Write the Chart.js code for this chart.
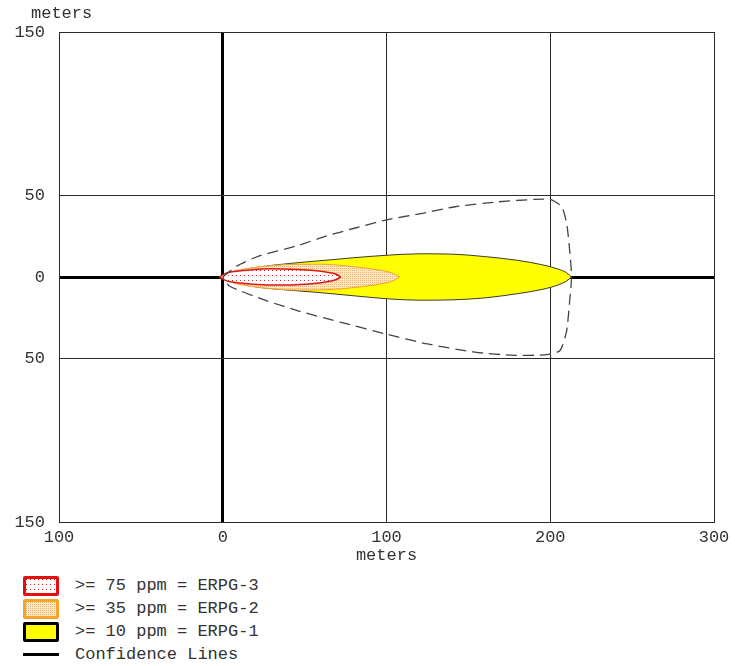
<!DOCTYPE html>
<html>
<head>
<meta charset="utf-8">
<script src="https://cdn.jsdelivr.net/npm/chart.js@4/dist/chart.umd.min.js"></script>
<style>
  body { margin: 0; background: #fff; font-family: "Liberation Mono", "DejaVu Sans Mono", monospace; color: #333; }
  #wrap { position: relative; width: 735px; height: 666px; }
  #chart-box { position: absolute; left: 0; top: 0; width: 735px; height: 570px; }
  #y-title { position: absolute; left: 31px; top: 4px; font-size: 17px; line-height: 20px; }
  #legend { position: absolute; left: 23px; top: 574px; }
  .legend-item { height: 23px; display: flex; align-items: center; font-size: 17px; white-space: pre; }
  .legend-box { width: 30px; height: 14px; margin-right: 16px; border-radius: 2px; }
  .legend-line { width: 36px; height: 3px; background: #000; margin-right: 16px; }
</style>
</head>
<body>
<div id="wrap">
  <div id="chart-box"><canvas id="zoneChart"></canvas></div>
  <div id="y-title">meters</div>
  <div id="legend"></div>
</div>
<script>
// axis ticks
const xTicks = [-100, 0, 100, 200, 300];
const yTicks = [-150, -50, 0, 50, 150];

// ERPG-1 (>= 10 ppm) yellow zone
const erpg1UpperX = [0, 8, 20, 40, 60, 80, 100, 120, 140, 160, 180, 195, 205, 210, 213];
const erpg1UpperY = [0, 3.5, 5.8, 8.2, 10, 11.8, 13.3, 14.2, 14, 12.5, 10.2, 7.5, 4.8, 2.6, 0];
const erpg1LowerX = [0, 8, 20, 40, 60, 80, 100, 120, 140, 160, 180, 195, 205, 210, 213];
const erpg1LowerY = [0, -3.5, -6, -8, -9.6, -11.5, -13.3, -14.2, -14, -12.8, -10.2, -7.6, -4.8, -2.4, 0];

// ERPG-2 (>= 35 ppm) orange zone
const erpg2UpperX = [0, 5, 15, 30, 45, 60, 75, 88, 98, 104, 108];
const erpg2UpperY = [0, 3, 5.2, 7, 7.8, 7.8, 6.8, 5.3, 3.8, 2.2, 0];
const erpg2LowerX = [0, 5, 15, 30, 45, 60, 75, 88, 98, 104, 108];
const erpg2LowerY = [0, -3, -5.4, -7.2, -8, -7.9, -7, -5.5, -3.9, -2.3, 0];

// ERPG-3 (>= 75 ppm) red zone
const erpg3UpperX = [-2, 2, 8, 18, 30, 42, 54, 63, 69, 72];
const erpg3UpperY = [0, 2.3, 3.5, 4.5, 5, 4.8, 4.1, 3, 1.8, 0];
const erpg3LowerX = [-2, 2, 8, 18, 30, 42, 54, 63, 69, 72];
const erpg3LowerY = [0, -2.2, -3.4, -4.4, -4.9, -4.9, -4.2, -3, -1.7, 0];

// confidence lines (one closed path: upper edge out, down the far end, lower edge back)
const confX = [0, 8.5, 22, 45, 63, 81, 100, 122, 142, 168, 190, 200, 207, 210, 212, 213,
               212, 210, 206, 198, 178, 154, 125, 100, 73, 47, 27, 4, 0];
const confY = [0, 6.7, 12.8, 19, 25, 30, 35, 39, 43, 46, 47.5, 47.5, 43, 33, 15, 0,
               -13, -33, -45, -47.5, -48, -46, -41, -35, -28, -21, -14.6, -5.5, 0];

const legendItems = [
  { text: '>= 75 ppm = ERPG-3', kind: 'red' },
  { text: '>= 35 ppm = ERPG-2', kind: 'orange' },
  { text: '>= 10 ppm = ERPG-1', kind: 'yellow' },
  { text: 'Confidence Lines', kind: 'line' }
];

const FONT = { family: '"Liberation Mono", "DejaVu Sans Mono", monospace', size: 17 };

const toPoints = (xs, ys) => xs.map((x, i) => ({ x, y: ys[i] }));

function makeDotPattern(bg, dot, w, h) {
    const c = document.createElement('canvas');
    c.width = w; c.height = h;
    const g = c.getContext('2d');
    g.fillStyle = bg;
    g.fillRect(0, 0, w, h);
    g.fillStyle = dot;
    g.fillRect(0, 0, 1, 1);
    return { pattern: g.createPattern(c, 'repeat'), url: c.toDataURL() };
}

const redDots = makeDotPattern('#ffffff', '#e02828', 4, 5);
const orangeDots = makeDotPattern('#f9e7c6', '#e9b676', 2, 2);

const zone = (label, pts, fillStyle, border, width, order) => ({
    label,
    data: pts,
    fill: 'origin',
    backgroundColor: fillStyle,
    borderColor: border,
    borderWidth: width,
    pointRadius: 0,
    cubicInterpolationMode: 'monotone',
    order
});

const datasets = [
    zone('ERPG-1 upper', toPoints(erpg1UpperX, erpg1UpperY), '#ffff00', '#3a3a2a', 1, 6),
    zone('ERPG-1 lower', toPoints(erpg1LowerX, erpg1LowerY), '#ffff00', '#3a3a2a', 1, 5),
    zone('ERPG-2 upper', toPoints(erpg2UpperX, erpg2UpperY), orangeDots.pattern, '#f0a030', 1, 4),
    zone('ERPG-2 lower', toPoints(erpg2LowerX, erpg2LowerY), orangeDots.pattern, '#f0a030', 1, 3),
    zone('ERPG-3 upper', toPoints(erpg3UpperX, erpg3UpperY), redDots.pattern, '#d81818', 1.5, 2),
    zone('ERPG-3 lower', toPoints(erpg3LowerX, erpg3LowerY), redDots.pattern, '#d81818', 1.5, 1),
    {
        label: 'Confidence Lines',
        data: toPoints(confX, confY),
        fill: false,
        borderColor: '#444',
        borderWidth: 1.3,
        borderDash: [11, 6],
        pointRadius: 0,
        tension: 0.2,
        order: 0
    }
];

const gridWidth = (ctx) => (ctx.tick && ctx.tick.value === 0 ? 3 : 1);
const gridColor = (ctx) => (ctx.tick && ctx.tick.value === 0 ? '#000' : '#2a2a2a');

new Chart(document.getElementById('zoneChart').getContext('2d'), {
    type: 'line',
    data: { datasets },
    options: {
        responsive: true,
        maintainAspectRatio: false,
        animation: false,
        events: [],
        layout: { padding: { top: 32, right: 21, left: 0, bottom: 0 } },
        plugins: { legend: { display: false }, tooltip: { enabled: false } },
        scales: {
            x: {
                type: 'linear',
                min: -100,
                max: 300,
                z: 1,
                afterBuildTicks: (axis) => { axis.ticks = xTicks.map(v => ({ value: v })); },
                afterFit: (s) => { s.height = 48; },
                ticks: { font: FONT, color: '#333', padding: 5, maxRotation: 0, autoSkip: false, callback: v => String(Math.abs(v)) },
                grid: { color: gridColor, lineWidth: gridWidth, drawTicks: false },
                border: { color: '#2a2a2a', width: 1 },
                title: { display: true, text: 'meters', font: FONT, color: '#333', padding: { top: 0, bottom: 4 } }
            },
            y: {
                type: 'linear',
                min: -150,
                max: 150,
                z: 1,
                afterBuildTicks: (axis) => { axis.ticks = yTicks.map(v => ({ value: v })); },
                afterFit: (s) => { s.width = 59; },
                ticks: { font: FONT, color: '#333', padding: 14, autoSkip: false, callback: v => String(Math.abs(v)) },
                grid: { color: gridColor, lineWidth: gridWidth, drawTicks: false },
                border: { color: '#2a2a2a', width: 1 }
            }
        }
    }
});

// legend below the plot
const legendEl = document.getElementById('legend');
legendItems.forEach(item => {
    const row = document.createElement('div');
    row.className = 'legend-item';
    const mark = document.createElement('span');
    if (item.kind === 'line') {
        mark.className = 'legend-line';
    } else {
        mark.className = 'legend-box';
        if (item.kind === 'red') {
            mark.style.border = '3px solid #e21010';
            mark.style.background = `url(${redDots.url})`;
        } else if (item.kind === 'orange') {
            mark.style.border = '3px solid #f4a428';
            mark.style.background = `url(${orangeDots.url})`;
        } else {
            mark.style.border = '3px solid #000';
            mark.style.background = '#ffff00';
        }
    }
    const label = document.createElement('span');
    label.textContent = item.text;
    row.appendChild(mark);
    row.appendChild(label);
    legendEl.appendChild(row);
});
</script>
</body>
</html>
